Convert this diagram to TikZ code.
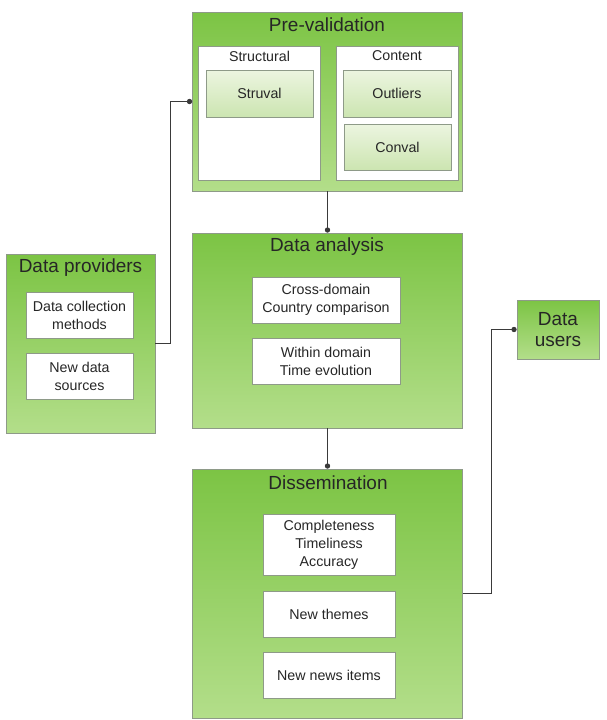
\documentclass[tikz,border=0pt]{standalone}
\usepackage{fontspec}
\setmainfont{Liberation Sans}
\usetikzlibrary{arrows.meta}
\definecolor{stagetop}{HTML}{7CC444}
\definecolor{stagebot}{HTML}{B3DE8A}
\definecolor{checktop}{HTML}{ECF5E0}
\definecolor{checkbot}{HTML}{CCE5B1}
\definecolor{edgegray}{HTML}{8E9A88}
\definecolor{wiregray}{HTML}{3A3A3A}

\begin{document}
\begin{tikzpicture}[
	stage/.style={draw=edgegray, top color=stagetop, bottom color=stagebot, inner sep=0pt},
	lbl/.style={text=black!85, align=center, inner sep=0pt, font=\fontsize{8.1}{10.2}\selectfont},
	item/.style={lbl, draw=edgegray, fill=white},
	check/.style={item, top color=checktop, bottom color=checkbot},
	title/.style={text=black!85, font=\fontsize{10.8}{13}\selectfont},
	wire/.style={draw=wiregray, line width=0.6pt, -{Circle[length=3pt]}}]
		\useasboundingbox (0,0) rectangle (12.12,-14.4);
		\node[stage, minimum width=5.4cm, minimum height=3.58cm] (prevalid) at (6.55,-2.03) {};
		\node[title] (prevalidtitle) at (6.54,-0.5) {Pre-validation};
		\node[item, minimum width=2.44cm, minimum height=2.68cm] (struct) at (5.18,-2.26) {};
		\node[item, minimum width=2.44cm, minimum height=2.68cm] (content) at (7.94,-2.26) {};
		\node[lbl] (structlabel) at (5.19,-1.12) {Structural};
		\node[lbl] (contentlabel) at (7.94,-1.12) {Content};
		\node[check, minimum width=2.14cm, minimum height=0.94cm] (struval) at (5.19,-1.87) {Struval};
		\node[check, minimum width=2.16cm, minimum height=0.94cm] (outliers) at (7.94,-1.87) {Outliers};
		\node[check, minimum width=2.14cm, minimum height=0.92cm] (conval) at (7.95,-2.94) {Conval};
		\node[stage, minimum width=5.4cm, minimum height=3.9cm] (analysis) at (6.55,-6.61) {};
		\node[title] (analysistitle) at (6.54,-4.94) {Data analysis};
		\node[item, minimum width=2.96cm, minimum height=0.92cm] (cross) at (6.52,-6.0) {Cross-domain\\Country comparison};
		\node[item, minimum width=2.96cm, minimum height=0.92cm] (within) at (6.52,-7.22) {Within domain\\Time evolution};
		\node[stage, minimum width=5.4cm, minimum height=4.98cm] (dissem) at (6.55,-11.87) {};
		\node[title] (dissemtitle) at (6.56,-9.66) {Dissemination};
		\node[item, minimum width=2.64cm, minimum height=1.22cm] (complete) at (6.58,-10.89) {Completeness\\Timeliness\\Accuracy};
		\node[item, minimum width=2.64cm, minimum height=0.92cm] (themes) at (6.58,-12.28) {New themes};
		\node[item, minimum width=2.64cm, minimum height=0.92cm] (news) at (6.58,-13.5) {New news items};
		\node[stage, minimum width=2.98cm, minimum height=3.58cm] (providers) at (1.61,-6.87) {};
		\node[title] (providerstitle) at (1.61,-5.36) {Data providers};
		\node[item, minimum width=2.14cm, minimum height=0.92cm] (collect) at (1.59,-6.3) {Data collection\\methods};
		\node[item, minimum width=2.14cm, minimum height=0.92cm] (sources) at (1.59,-7.52) {New data\\sources};
		\node[stage, title, align=center, minimum width=1.64cm, minimum height=1.18cm, font=\fontsize{10.8}{12.2}\selectfont] (users) at (11.16,-6.59) {Data\\users};
		\draw[wire] (providers.east) -- ++(0.3,0) |- (prevalid.west);
		\draw[wire] (prevalid.south) -- (analysis.north);
		\draw[wire] (analysis.south) -- (dissem.north);
		\draw[wire] (dissem.east) -- ++(0.57,0) |- (users.west);
\end{tikzpicture}
\end{document}
